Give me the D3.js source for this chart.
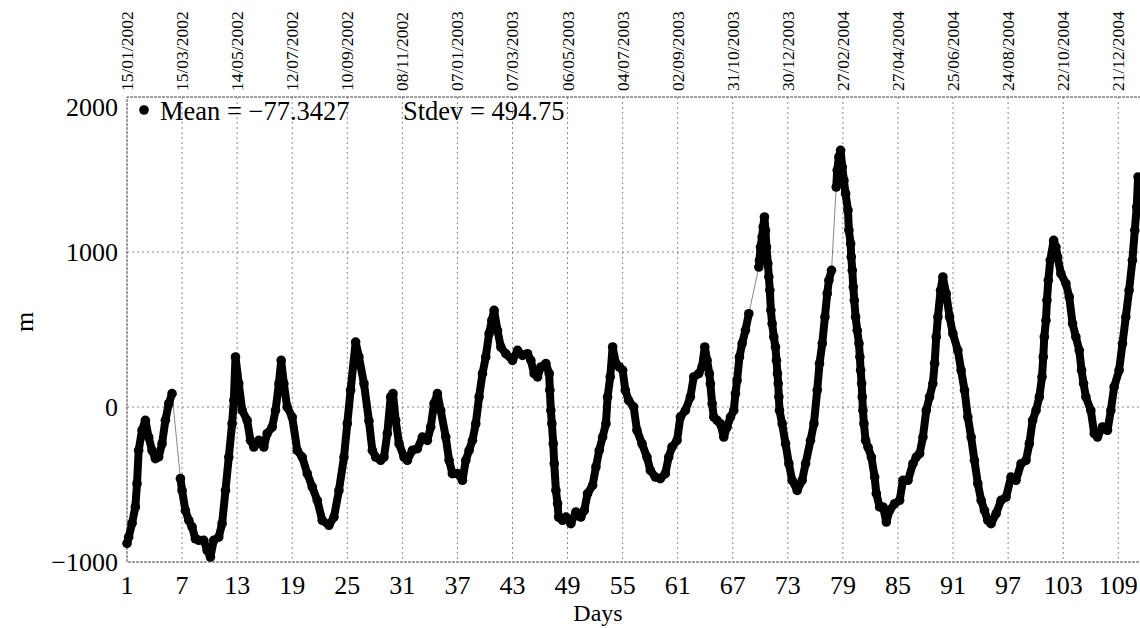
<!DOCTYPE html>
<html lang="en">
<head>
    <meta charset="UTF-8">
    <title>Days vs m</title>
    <script src="https://d3js.org/d3.v7.min.js"></script>
    <style>
        body { margin: 0; background: #fff; }
        text { font-family: "Liberation Serif", "DejaVu Serif", serif; fill: #000; }
        .grid { stroke: #888; stroke-width: 1; stroke-dasharray: 2,3; }
        .frame { stroke: #444; stroke-width: 1; stroke-dasharray: 3,1; fill: none; }
    </style>
</head>
<body>
    <svg width="1140" height="628"></svg>
    <script>
        // readings (x in "Days" units, value in m)
        const days = [
            1.0, 1.18, 1.55, 1.91, 2.09, 2.27, 2.64, 3.0, 3.36, 3.73, 4.09, 4.45, 4.82, 5.18, 5.55, 5.91,
            6.82, 7.0, 7.36, 7.73, 8.09, 8.45, 8.82, 9.36, 9.73, 10.09, 10.45, 11.0, 11.36, 11.73, 12.09, 12.45,
            12.64, 12.82, 13.18, 13.55, 14.09, 14.45, 14.82, 15.36, 15.91, 16.27, 16.82, 17.18, 17.55, 17.8,
            18.09, 18.45, 19.0, 19.55, 20.09, 20.64, 21.18, 21.73, 22.27, 23.0, 23.55, 24.09, 24.64, 25.0,
            25.36, 25.91, 26.27, 26.82, 27.36, 27.73, 28.09, 28.64, 29.0, 29.36, 29.73, 29.98, 30.27, 30.64,
            31.18, 31.55, 32.09, 32.64, 33.18, 33.73, 34.09, 34.45, 34.82, 35.18, 35.73, 36.09, 36.45, 37.0,
            37.55, 37.91, 38.27, 38.64, 39.0, 39.36, 39.73, 40.09, 40.45, 40.75, 41.0, 41.36, 41.73, 42.27,
            43.0, 43.55, 44.09, 44.64, 45.0, 45.36, 45.73, 46.09, 46.64, 47.0, 47.07, 47.18, 47.29, 47.44,
            47.55, 47.73, 47.91, 48.02, 48.45, 48.82, 49.36, 49.91, 50.45, 50.82, 51.18, 51.73, 52.09, 52.45,
            52.82, 53.18, 53.36, 53.65, 53.91, 54.27, 54.64, 55.0, 55.29, 55.65, 56.2, 56.56, 57.11, 57.65,
            58.02, 58.56, 59.11, 59.65, 60.02, 60.38, 60.93, 61.29, 61.84, 62.38, 62.75, 63.29, 63.65, 63.95,
            64.2, 64.45, 64.56, 64.75, 64.93, 65.29, 65.65, 66.02, 66.38, 66.75, 67.11, 67.29, 67.47, 67.73,
            68.02, 68.38, 68.75,
            69.84, 69.91, 70.02, 70.2, 70.31, 70.45, 70.56, 70.67, 70.82, 70.93, 71.04, 71.15, 71.29, 71.47,
            71.65, 71.76, 71.87, 71.95, 72.02, 72.09, 72.38, 72.75, 73.11, 73.47, 74.02, 74.56, 74.93, 75.47,
            75.84, 76.2, 76.45, 76.75, 77.04, 77.29, 77.47, 77.76,
            78.27, 78.38, 78.56, 78.75, 78.93, 79.11, 79.29, 79.55, 79.65, 79.84, 79.91, 80.02, 80.13, 80.24,
            80.38, 80.56, 80.75, 80.85, 80.93, 81.04, 81.11, 81.18, 81.29, 81.47, 81.74, 82.1, 82.46, 82.64,
            83.0, 83.37, 83.73, 84.09, 84.64, 85.18, 85.54, 86.09, 86.63, 86.99, 87.36, 87.72, 88.08, 88.44,
            88.8, 88.99, 89.17, 89.35, 89.64, 89.89, 90.25, 90.62, 90.98, 91.52, 91.88, 92.25, 92.61, 92.97,
            93.33, 93.7, 94.06, 94.42, 94.78, 95.14, 95.69, 96.23, 96.78, 97.32, 97.86, 98.41, 98.95, 99.31,
            99.67, 100.04, 100.4, 100.69, 100.83, 100.94, 101.12, 101.23, 101.38, 101.59, 101.96, 102.21,
            102.39, 102.75, 103.3, 103.66, 104.02, 104.38, 104.75, 105.0, 105.22, 105.47, 106.01, 106.38,
            106.74, 107.28, 107.83, 108.19, 108.55, 109.09, 109.46, 109.82, 110.18, 110.54, 110.8, 111.01, 111.16
        ];
        const values = [
            -880, -840, -750, -645, -495, -280, -150, -86, -195, -280, -333, -322, -237, -86, 21, 86,
            -462, -538, -667, -731, -774, -850, -860, -860, -925, -968, -860, -839, -753, -538, -323, -108,
            43, 323, 150, -22, -86, -215, -258, -215, -258, -172, -129, -22, 150, 301,
            150, 0, -65, -280, -323, -430, -516, -602, -731, -763, -710, -538, -323, -108,
            108, 419, 323, 150, -90, -280, -323, -344, -323, -172, 65, 86, -86, -237,
            -323, -344, -280, -269, -194, -215, -129, 22, 86, -22, -194, -344, -430, -430,
            -473, -344, -280, -215, -108, 65, 215, 323, 473, 559, 624, 495, 387, 344,
            301, 366, 333, 344, 301, 215, 194, 258, 280, 215, 108, -22, -108, -237,
            -366, -538, -624, -710, -731, -710, -753, -677, -710, -667, -559, -505, -387, -280,
            -194, -108, 65, 194, 387, 280, 258, 237, 108, 43, 0, -150, -237, -323,
            -409, -452, -462, -430, -323, -258, -215, -65, -22, 65, 194, 215, 258, 387,
            301, 215, 150, 22, -65, -86, -108, -194, -129, -65, -22, 86, 172, 323,
            409, 495, 602,
            903, 946, 1032, 1097, 1161, 1226, 1140, 1032, 925, 839, 753, 624, 538, 452,
            387, 301, 215, 151, 65, -22, -108, -237, -366, -473, -538, -473, -366, -215,
            -108, 108, 280, 409, 581, 731, 817, 882,
            1419, 1527, 1613, 1656, 1548, 1462, 1376, 1269, 1140, 1054, 968, 882, 774, 688,
            581, 495, 409, 323, 237, 151, 65, -22, -108, -215, -260, -323, -452, -559,
            -645, -645, -742, -667, -624, -602, -473, -473, -366, -323, -301, -194, -22, 65,
            151, 280, 452, 581, 753, 839, 731, 581, 473, 366, 237, 108, -65, -194,
            -344, -495, -602, -667, -731, -753, -688, -602, -581, -452, -473, -366, -344, -237,
            -86, -22, 65, 194, 323, 452, 559, 688, 817, 946, 1075, 1032,
            968, 860, 796, 710, 538, 452, 366, 237, 151, 65, -22, -172,
            -194, -129, -150, -22, 129, 237, 409, 581, 753, 946, 1140, 1290, 1484
        ];
        // days where a new run of points starts after missing data
        const runStarts = [6.82, 69.84, 78.27];

        const dayTicks = d3.range(1, 110, 6);
        const dateLabels = ['15/01/2002', '15/03/2002', '14/05/2002', '12/07/2002', '10/09/2002',
            '08/11/2002', '07/01/2003', '07/03/2003', '06/05/2003', '04/07/2003', '02/09/2003',
            '31/10/2003', '30/12/2003', '27/02/2004', '27/04/2004', '25/06/2004', '24/08/2004',
            '22/10/2004', '21/12/2004'];
        const mTicks = [-1000, 0, 1000, 2000];
        const meanText = 'Mean = \u221277.3427';
        const stdevText = 'Stdev = 494.75';

        const svg = d3.select('svg');
        const plotLeft = 127, plotRight = 1145.8, plotTop = 97, plotBottom = 562;

        const x = d3.scaleLinear().domain([1, 112]).range([plotLeft, plotRight]);
        const y = d3.scaleLinear().domain([-1000, 2000]).range([plotBottom, plotTop]);

        // grid
        svg.append('g').selectAll('line')
            .data(dayTicks.slice(1))
            .enter().append('line')
            .attr('class', 'grid')
            .attr('x1', d => x(d)).attr('x2', d => x(d))
            .attr('y1', plotTop).attr('y2', plotBottom);
        svg.append('g').selectAll('line')
            .data([0, 1000])
            .enter().append('line')
            .attr('class', 'grid')
            .attr('x1', plotLeft).attr('x2', 1140)
            .attr('y1', d => y(d)).attr('y2', d => y(d));

        // frame
        svg.append('path')
            .attr('class', 'frame')
            .attr('d', `M1141,${plotTop}H${plotLeft}V${plotBottom}H1141`);

        // bottom axis labels
        svg.append('g').selectAll('text')
            .data(dayTicks)
            .enter().append('text')
            .attr('x', d => x(d))
            .attr('y', 594)
            .attr('text-anchor', 'middle')
            .style('font-size', '26px')
            .text(d => d);

        svg.append('text')
            .attr('x', 598).attr('y', 621)
            .attr('text-anchor', 'middle')
            .style('font-size', '24px')
            .text('Days');

        // top axis: dates
        svg.append('g').selectAll('text')
            .data(dayTicks)
            .enter().append('text')
            .attr('transform', d => `translate(${x(d) + 6},91) rotate(-90)`)
            .style('font-size', '17.5px')
            .text((d, i) => dateLabels[i]);

        // left axis
        svg.append('g').selectAll('text')
            .data(mTicks)
            .enter().append('text')
            .attr('x', 118)
            .attr('y', d => Math.max(y(d) + 9, 116))
            .attr('text-anchor', 'end')
            .style('font-size', '26px')
            .text(d => d < 0 ? '\u2212' + Math.abs(d) : d);

        svg.append('text')
            .attr('transform', 'translate(33,322) rotate(-90)')
            .attr('text-anchor', 'middle')
            .style('font-size', '26px')
            .text('m');

        // series
        const pts = days.map((d, i) => ({ day: d, m: values[i] }));
        const plot = svg.append('g');

        plot.append('path')
            .datum(pts)
            .attr('fill', 'none')
            .attr('stroke', '#555')
            .attr('stroke-width', 0.7)
            .attr('d', d3.line().x(d => x(d.day)).y(d => y(d.m)));

        const runs = [];
        let cur = [];
        pts.forEach(p => {
            if (runStarts.includes(p.day) && cur.length) { runs.push(cur); cur = []; }
            cur.push(p);
        });
        runs.push(cur);

        plot.selectAll('.run')
            .data(runs)
            .enter().append('path')
            .attr('class', 'run')
            .attr('fill', 'none')
            .attr('stroke', '#000')
            .attr('stroke-width', 8)
            .attr('stroke-linejoin', 'round')
            .attr('stroke-linecap', 'round')
            .attr('d', d3.line().x(d => x(d.day)).y(d => y(d.m)));

        plot.selectAll('circle')
            .data(pts)
            .enter().append('circle')
            .attr('cx', d => x(d.day))
            .attr('cy', d => y(d.m))
            .attr('r', 4.8)
            .attr('fill', '#000');

        // legend
        svg.append('circle').attr('cx', 144).attr('cy', 110).attr('r', 4.8).attr('fill', '#000');
        svg.append('text').attr('x', 160).attr('y', 120).style('font-size', '26.5px').text(meanText);
        svg.append('text').attr('x', 403).attr('y', 120).style('font-size', '26.5px').text(stdevText);
    </script>
</body>
</html>
